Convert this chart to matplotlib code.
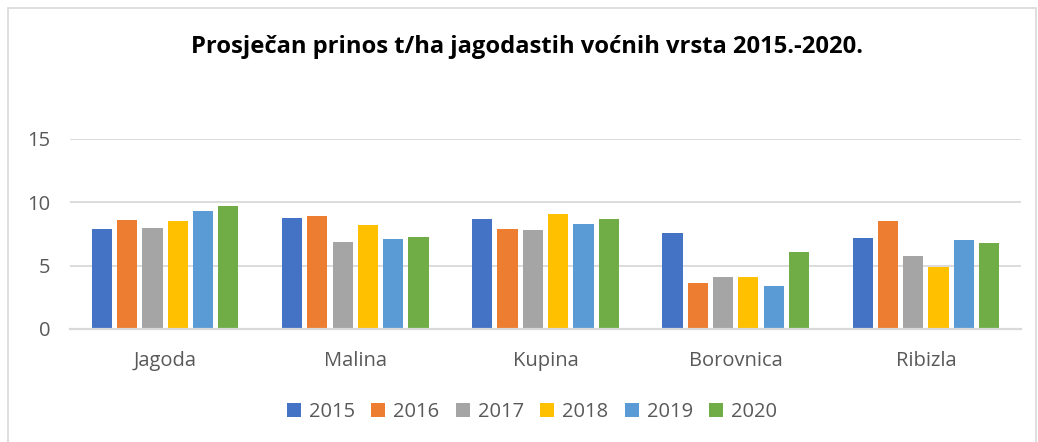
import matplotlib

matplotlib.use("Agg")
from matplotlib import pyplot as plt
from matplotlib.patches import Rectangle
import numpy as np

categories = ["Jagoda", "Malina", "Kupina", "Borovnica", "Ribizla"]
years = ["2015", "2016", "2017", "2018", "2019", "2020"]
y2015 = [7.9, 8.8, 8.7, 7.6, 7.2]
y2016 = [8.6, 8.9, 7.9, 3.6, 8.5]
y2017 = [8.0, 6.9, 7.8, 4.1, 5.8]
y2018 = [8.5, 8.2, 9.1, 4.1, 4.9]
y2019 = [9.3, 7.1, 8.3, 3.4, 7.0]
y2020 = [9.75, 7.3, 8.7, 6.1, 6.8]
series = [y2015, y2016, y2017, y2018, y2019, y2020]
colors = ["#4472C4", "#ED7D31", "#A5A5A5", "#FFC000", "#5B9BD5", "#70AD47"]

plt.rcParams["font.family"] = ["Open Sans", "DejaVu Sans"]
grey = "#595959"

fig = plt.figure(figsize=(10.38, 4.42), dpi=100)
# chart border
fig.patches.append(Rectangle((8 / 1038, -0.1), 1028 / 1038, 1.1 - 8 / 442,
                             transform=fig.transFigure, fill=False,
                             edgecolor="#D9D9D9", linewidth=1.2))

ax = fig.add_axes([70 / 1038, 1 - 329 / 442, 951 / 1038, 190 / 442])
x = np.arange(len(categories))
pitch = 0.133
width = 0.106
for i, (vals, c, yr) in enumerate(zip(series, colors, years)):
    ax.bar(x + (i - 2.5) * pitch, vals, width, color=c, label=yr, zorder=3)

ax.set_xlim(-0.5, len(categories) - 0.5)
ax.set_ylim(0, 15)
ax.set_yticks([0, 5, 10, 15])
ax.yaxis.grid(True, color="#D9D9D9", linewidth=1.3, zorder=0)
ax.set_axisbelow(True)
for s in ["top", "right", "left"]:
    ax.spines[s].set_visible(False)
ax.spines["bottom"].set_color("#D9D9D9")
ax.spines["bottom"].set_linewidth(1.6)
ax.spines["bottom"].set_zorder(4)
ax.set_xticks(x)
ax.set_xticklabels(categories)
ax.tick_params(axis="both", length=0, colors=grey, labelsize=14.5)
ax.tick_params(axis="y", pad=14)
ax.tick_params(axis="x", pad=16)

fig.text(527 / 1038, 1 - 47 / 442, "Prosječan prinos t/ha jagodastih voćnih vrsta 2015.-2020.",
         ha="center", va="center", fontsize=17.1, fontweight="bold", color="black")

fig.legend(loc="center", bbox_to_anchor=(532 / 1038, 1 - 412 / 442), ncol=6,
           frameon=False, fontsize=14.5, handlelength=0.7, handleheight=0.7,
           handletextpad=0.4, columnspacing=0.8, labelcolor=grey)

fig.savefig("out.png", dpi=100)
plt.close(fig)
